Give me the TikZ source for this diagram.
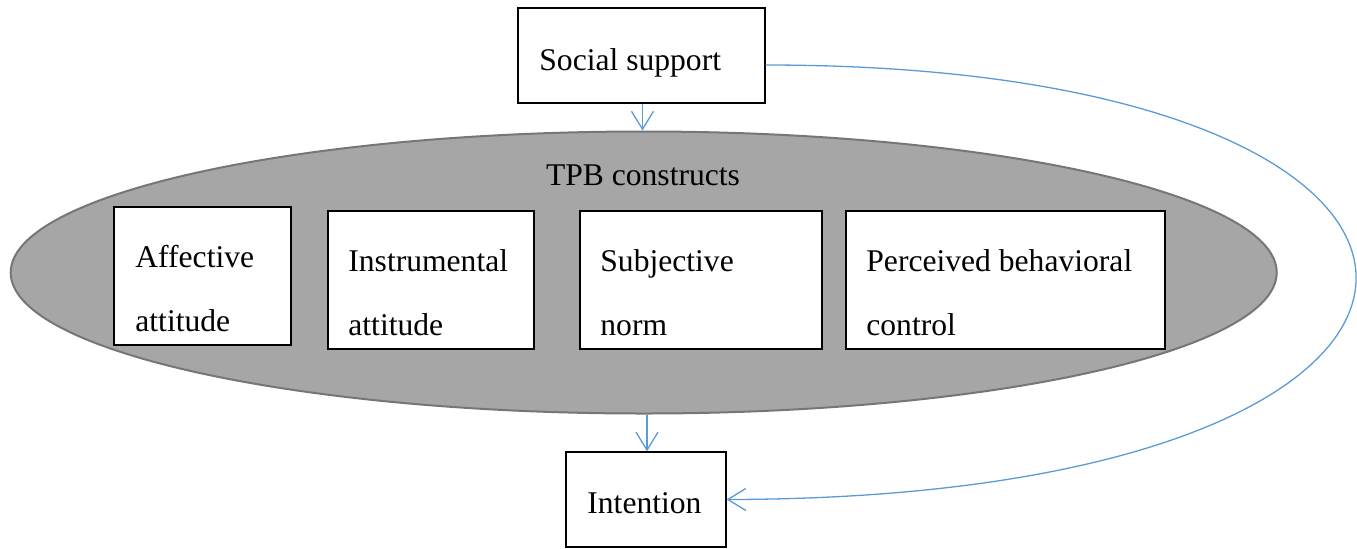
\documentclass[tikz,border=0pt]{standalone}
\usepackage{fontspec}
\setmainfont{Liberation Serif}
\usetikzlibrary{arrows.meta,fit,shapes.geometric,calc}
\definecolor{linkblue}{HTML}{5B9BD5}
\definecolor{ellfill}{HTML}{A6A6A6}
\definecolor{ellline}{HTML}{767676}
\begin{document}
\begin{tikzpicture}[x=0.5pt,y=-0.5pt,
  box/.style={draw=black,line width=0.65pt,fill=white,inner sep=0pt},
  lbl/.style={anchor=base west,inner sep=0pt,font=\fontsize{15.8}{19}\selectfont},
  conn/.style={draw=linkblue,line width=0.65pt,-{Straight Barb[length=9pt,width=11pt,line width=0.65pt]}}]
\useasboundingbox (0,0) rectangle (1357,548);
% ellipse
\node[ellipse,draw=ellline,line width=1pt,fill=ellfill,minimum width=633pt,minimum height=141pt,inner sep=0pt] (tpb) at (643.7,272.5) {};
\node[anchor=base,inner sep=0pt,font=\fontsize{15.8}{19}\selectfont] (tpbl) at (643,185) {TPB constructs};
% top and bottom boxes
\node[box,fit={(518,8) (765,103)}] (ss) {};
\node[lbl] (ssl) at (539,70.5) {Social support};
\node[box,fit={(566,452) (726,547)}] (int) {};
\node[lbl] (intl) at (587,513) {Intention};
% construct boxes
\node[box,fit={(114,207) (291,345)}] (aff) {};
\node[lbl] (aff1) at (135,267.7) {Affective};
\node[lbl] (aff2) at (135,331.7) {attitude};
\node[box,fit={(328,211) (534,349)}] (ins) {};
\node[lbl] (ins1) at (348,271) {Instrumental};
\node[lbl] (ins2) at (348,335) {attitude};
\node[box,fit={(580,211) (822,349)}] (sub) {};
\node[lbl] (sub1) at (600,271) {Subjective};
\node[lbl] (sub2) at (600,335) {norm};
\node[box,fit={(846,211) (1165,349)}] (pbc) {};
\node[lbl] (pbc1) at (866,271) {Perceived behavioral};
\node[lbl] (pbc2) at (866,335) {control};
% connectors
\draw[conn] ($(ss.south)+(1,0)$) -- ($(ss.south |- tpb.north)+(1,0)$);
\draw[conn] ($(int.north |- tpb.south)+(1,0)$) -- ($(int.north)+(1,0)$);
\draw[conn] ($(ss.east)+(0,9.5)$) .. controls (1559,65) and (1559,498) .. (int.east);
\end{tikzpicture}
\end{document}
